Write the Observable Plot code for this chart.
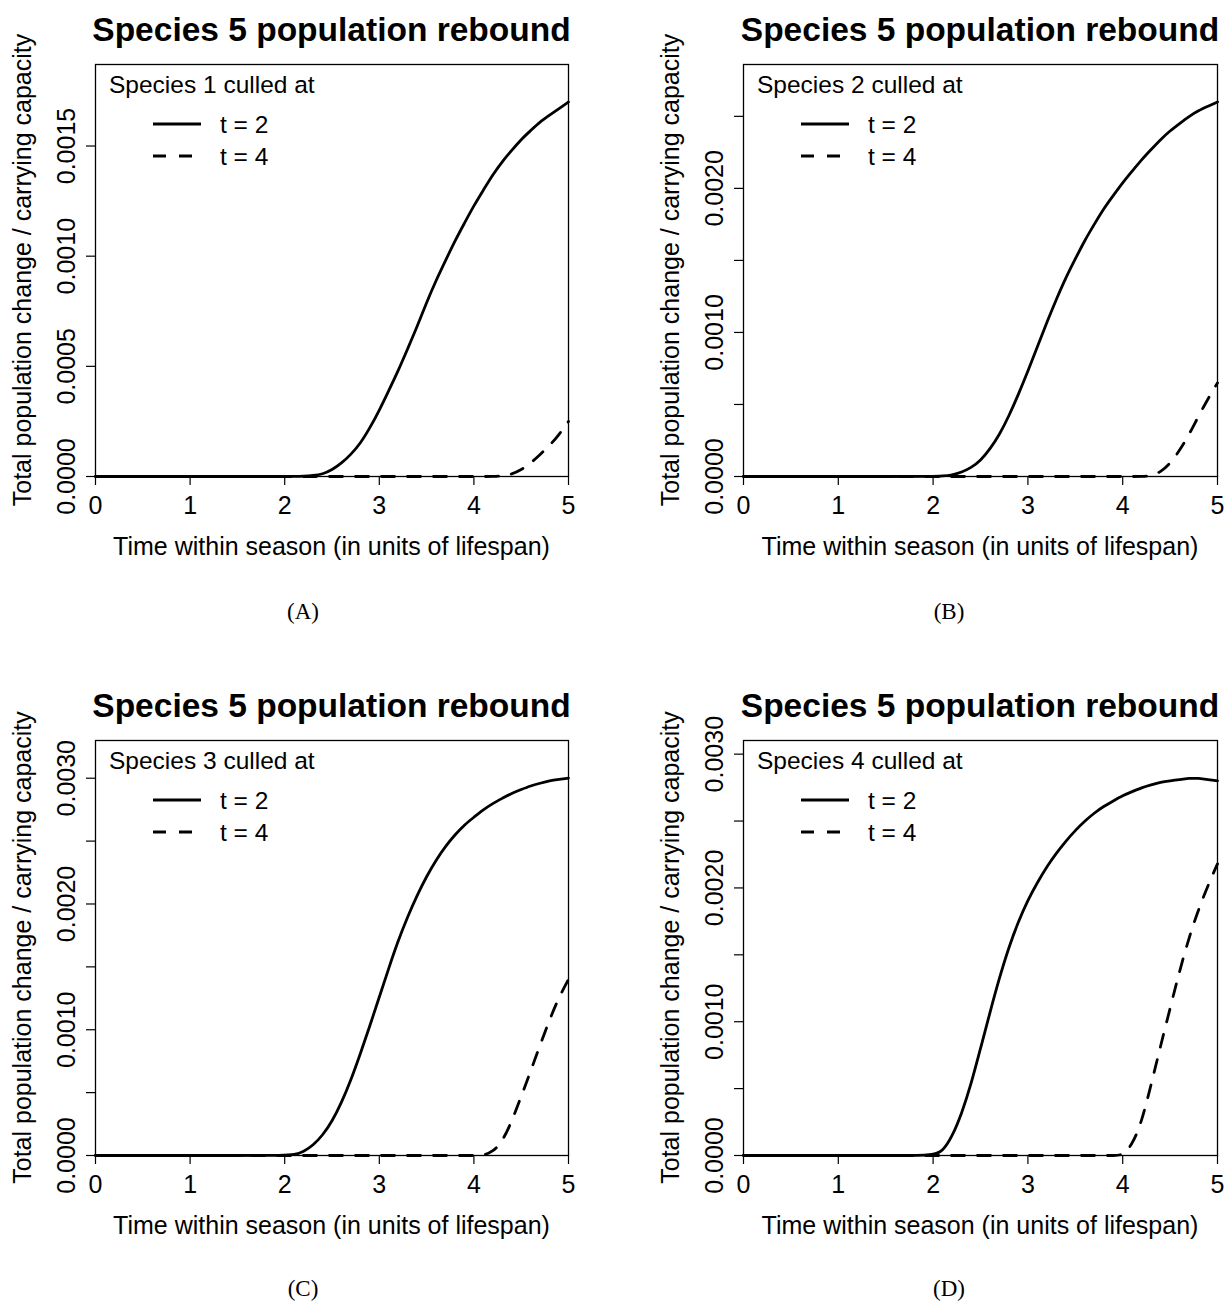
<!DOCTYPE html>
<html><head><meta charset="utf-8">
<script src="https://cdn.jsdelivr.net/npm/d3@7"></script>
<script src="https://cdn.jsdelivr.net/npm/@observablehq/plot@0.6"></script>
<style>
body{margin:0;background:#fff;}
#wrap{position:relative;width:1231px;height:1304px;background:#fff;}
#wrap > svg{position:absolute;}
</style></head><body><div id="wrap"></div>
<script>
// ---------- data ----------
const timeGrid = [0,0.5,1,1.5,2.0,2.1,2.2,2.3,2.4,2.5,2.6,2.7,2.8,2.9,3.0,3.1,3.2,3.3,3.4,3.5,3.6,3.7,3.8,3.9,4.0,4.1,4.2,4.3,4.4,4.5,4.6,4.7,4.8,4.9,5.0];
const sp1Cull2 = [0,0,0,0,0,0,0.000001,0.000004,0.00001,0.00003,0.00006,0.0001,0.00015,0.00022,0.0003,0.00039,0.00048,0.00058,0.00068,0.00079,0.00089,0.00098,0.00107,0.00115,0.00123,0.0013,0.00137,0.00143,0.00148,0.00153,0.00157,0.00161,0.00164,0.00167,0.0017];
const sp1Cull4 = [0,0,0,0,0,0,0,0,0,0,0,0,0,0,0,0,0,0,0,0,0,0,0,0,0,0,0,0.000002,0.00001,0.00003,0.00006,0.0001,0.00014,0.00019,0.00025];
const sp2Cull2 = [0,0,0,0,0,0.000003,0.00001,0.00003,0.00006,0.00011,0.00019,0.00029,0.00042,0.00057,0.00073,0.0009,0.00107,0.00123,0.00138,0.00151,0.00164,0.00175,0.00186,0.00195,0.00204,0.00212,0.0022,0.00227,0.00234,0.0024,0.00245,0.0025,0.00254,0.00257,0.0026];
const sp2Cull4 = [0,0,0,0,0,0,0,0,0,0,0,0,0,0,0,0,0,0,0,0,0,0,0,0,0,0,0,0.000005,0.00003,0.00009,0.00018,0.00029,0.00042,0.00054,0.00065];
const sp3Cull2 = [0,0,0,0,0,0.000005,0.00003,0.00008,0.00016,0.00027,0.00042,0.0006,0.00081,0.00103,0.00126,0.00149,0.00171,0.0019,0.00207,0.00222,0.00235,0.00246,0.00255,0.00263,0.00269,0.00275,0.0028,0.00284,0.00288,0.00291,0.00294,0.00296,0.00298,0.00299,0.0030];
const sp3Cull4 = [0,0,0,0,0,0,0,0,0,0,0,0,0,0,0,0,0,0,0,0,0,0,0,0,0,0,0.00003,0.00011,0.00027,0.00047,0.00067,0.00088,0.00108,0.00126,0.0014];
const sp4Cull2 = [0,0,0,0,0,0.00003,0.00014,0.00031,0.00053,0.0008,0.00107,0.00133,0.00156,0.00175,0.00191,0.00204,0.00216,0.00226,0.00235,0.00243,0.0025,0.00256,0.00261,0.00265,0.00269,0.00272,0.00275,0.00277,0.00279,0.0028,0.00281,0.00282,0.00282,0.00281,0.0028];
const sp4Cull4 = [0,0,0,0,0,0,0,0,0,0,0,0,0,0,0,0,0,0,0,0,0,0,0,0,0,0.00008,0.00025,0.00053,0.00082,0.0011,0.00138,0.00163,0.00184,0.00202,0.00218];

const xTicks = [0,1,2,3,4,5];
const yTicksA = [0,0.0005,0.001,0.0015];
const yLabelsA = [0,0.0005,0.001,0.0015];
const yTicksB = [0,0.0005,0.001,0.0015,0.002,0.0025];
const yLabelsB = [0,0.001,0.002];
const yTicksCD = [0,0.0005,0.001,0.0015,0.002,0.0025,0.003];
const yLabelsCD = [0,0.001,0.002,0.003];

const panelTitle = "Species 5 population rebound";
const xTitle = "Time within season (in units of lifespan)";
const yTitle = "Total population change / carrying capacity";
const legendLabels = ["t = 2", "t = 4"];
const speciesCulled = [1,2,3,4];
const captions = ["(A)","(B)","(C)","(D)"];
const seriesT2 = [sp1Cull2, sp2Cull2, sp3Cull2, sp4Cull2];
const seriesT4 = [sp1Cull4, sp2Cull4, sp3Cull4, sp4Cull4];
const yTickSets = [yTicksA, yTicksB, yTicksCD, yTicksCD];
const yLabelSets = [yLabelsA, yLabelsB, yLabelsCD, yLabelsCD];

// ---------- layout ----------
const layout = [
  {svgL:0,   svgT:0,   w:615, h:560, L:95,  R:568,  T:64,  B:476,  capX:303, capY:611},
  {svgL:648, svgT:0,   w:583, h:560, L:743, R:1217, T:64,  B:476,  capX:949, capY:611},
  {svgL:0,   svgT:677, w:615, h:560, L:95,  R:568,  T:740, B:1155, capX:303, capY:1288},
  {svgL:648, svgT:677, w:583, h:560, L:743, R:1217, T:740, B:1155, capX:949, capY:1288}
];
const SANS = "'Liberation Sans', Arial, Helvetica, sans-serif";
const SERIF = "'Liberation Serif', 'Times New Roman', serif";
const DASH = "13,13";
const fmt = d3.format(".4f");

const wrap = document.getElementById("wrap");

layout.forEach((p, i) => {
  const rows2 = timeGrid.map((t, k) => ({t, v: seriesT2[i][k]}));
  const rows4 = timeGrid.map((t, k) => ({t, v: seriesT4[i][k]}));
  const ymax = 1.1 * d3.max(seriesT2[i].concat(seriesT4[i]));
  const labs = yLabelSets[i];
  const chart = Plot.plot({
    width: p.w, height: p.h,
    marginLeft: p.L - p.svgL, marginRight: p.svgL + p.w - p.R,
    marginTop: p.T - p.svgT, marginBottom: p.svgT + p.h - p.B,
    x: {domain: [0, 5]},
    y: {domain: [0, ymax]},
    style: {fontFamily: SANS, fontSize: "25px", color: "black", background: "white", overflow: "visible"},
    marks: [
      Plot.axisX(xTicks, {tickSize: 9, tickPadding: 11, fontSize: 25, label: null, tickFormat: d => String(d), strokeWidth: 1.2}),
      Plot.axisY(yTickSets[i], {tickSize: 9, tickPadding: 12, tickRotate: -90, fontSize: 25, label: null, strokeWidth: 1.2,
        tickFormat: d => labs.some(l => Math.abs(l - d) < 1e-9) ? fmt(d) : ""}),
      Plot.line(rows4, {x: "t", y: "v", curve: "basis", stroke: "black", strokeWidth: 2.8, strokeDasharray: DASH}),
      Plot.line(rows2, {x: "t", y: "v", curve: "basis", stroke: "black", strokeWidth: 2.8}),
      Plot.frame({stroke: "black", strokeWidth: 1.3})
    ]
  });
  chart.style.left = p.svgL + "px";
  chart.style.top = p.svgT + "px";
  wrap.appendChild(chart);
});

// ---------- text overlay: titles, axis titles, legends, captions ----------
const ov = d3.select(wrap).append("svg")
  .attr("width", 1231).attr("height", 1304)
  .style("left", "0px").style("top", "0px").style("pointer-events", "none");

layout.forEach((p, i) => {
  const cx = (p.L + p.R) / 2, cy = (p.T + p.B) / 2;
  ov.append("text").attr("x", cx).attr("y", p.T - 23)
    .attr("text-anchor", "middle").attr("font-family", SANS).attr("font-weight", "bold")
    .attr("font-size", 33.5).text(panelTitle);
  ov.append("text").attr("x", cx).attr("y", p.B + 79)
    .attr("text-anchor", "middle").attr("font-family", SANS).attr("font-size", 25).text(xTitle);
  ov.append("text").attr("transform", `translate(${p.L - 64},${cy}) rotate(-90)`)
    .attr("text-anchor", "middle").attr("font-family", SANS).attr("font-size", 25).text(yTitle);
  // legend
  ov.append("text").attr("x", p.L + 14).attr("y", p.T + 29)
    .attr("font-family", SANS).attr("font-size", 24.5).text(`Species ${speciesCulled[i]} culled at`);
  legendLabels.forEach((lab, k) => {
    const ly = p.T + 60 + k * 32;
    ov.append("line").attr("x1", p.L + 58).attr("x2", p.L + 106).attr("y1", ly).attr("y2", ly)
      .attr("stroke", "black").attr("stroke-width", 2.8).attr("stroke-dasharray", k ? DASH : null);
    ov.append("text").attr("x", p.L + 125).attr("y", ly + 9)
      .attr("font-family", SANS).attr("font-size", 24.5).text(lab);
  });
  ov.append("text").attr("x", p.capX).attr("y", p.capY + 8)
    .attr("text-anchor", "middle").attr("font-family", SERIF).attr("font-size", 23).text(captions[i]);
});
</script></body></html>
